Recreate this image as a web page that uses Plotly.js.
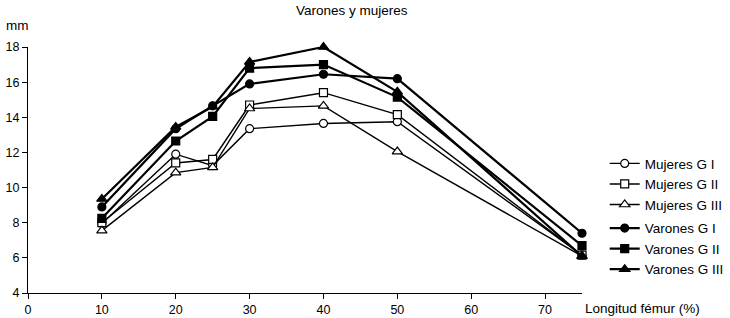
<!DOCTYPE html>
<html>
<head>
<meta charset="utf-8">
<script src="https://cdn.plot.ly/plotly-3.0.1.min.js"></script>
<style>html,body{margin:0;padding:0;background:#fff;}#chart{width:730px;height:318px;}</style>
</head>
<body>
<div id="chart"></div>
<script>
const longitud = [10, 20, 25, 30, 40, 50, 75];
const mujeresGI   = [7.95, 11.9, 11.25, 13.35, 13.65, 13.75, 6.15];
const mujeresGII  = [8.0, 11.4, 11.6, 14.7, 15.4, 14.15, 6.15];
const mujeresGIII = [7.55, 10.85, 11.15, 14.5, 14.65, 12.05, 6.1];
const varonesGI   = [8.9, 13.35, 14.65, 15.9, 16.45, 16.2, 7.4];
const varonesGII  = [8.25, 12.65, 14.05, 16.8, 17.0, 15.15, 6.7];
const varonesGIII = [9.35, 13.45, 14.6, 17.15, 18.0, 15.45, 6.1];
const seriesNames = ['Mujeres G I', 'Mujeres G II', 'Mujeres G III', 'Varones G I', 'Varones G II', 'Varones G III'];
const xTicks = [0, 10, 20, 30, 40, 50, 60, 70];
const yTicks = [4, 6, 8, 10, 12, 14, 16, 18];

const FONT = 'Liberation Sans, Arial, Helvetica, sans-serif';
const seriesData = [mujeresGI, mujeresGII, mujeresGIII, varonesGI, varonesGII, varonesGIII];
const symbols = ['circle', 'square', 'triangle-up', 'circle', 'square', 'triangle-up'];

const traces = seriesData.map((ys, i) => {
  const filled = i >= 3;
  return {
    type: 'scatter',
    mode: 'lines+markers',
    x: longitud,
    y: ys,
    name: seriesNames[i],
    legendgroup: filled ? 'v' : 'm',
    line: {color: '#000', width: filled ? 2.2 : 1.4},
    marker: {
      symbol: symbols[i],
      size: symbols[i] === 'triangle-up' ? 9 : 8,
      color: filled ? '#000' : '#fff',
      line: {color: '#000', width: 1.2}
    },
    cliponaxis: false
  };
});

const layout = {
  width: 730, height: 318,
  margin: {l: 28, r: 148, t: 47, b: 25, autoexpand: false},
  paper_bgcolor: '#fff', plot_bgcolor: '#fff',
  font: {family: FONT, size: 13.5, color: '#000'},
  title: {text: 'Varones y mujeres', font: {family: FONT, size: 13.5, color: '#000'},
          xref: 'container', x: 0.482, xanchor: 'center', yref: 'container', y: 0.9686, yanchor: 'middle'},
  showlegend: true,
  legend: {x: 1.041, xanchor: 'left', y: 0.589, yanchor: 'top', traceorder: 'grouped', tracegroupgap: 3,
           font: {family: FONT, size: 13.5, color: '#000'}, bgcolor: 'rgba(0,0,0,0)'},
  xaxis: {range: [0, 75], tickvals: xTicks, ticktext: xTicks.map(String), showgrid: false, zeroline: false,
          showline: true, linecolor: '#000', linewidth: 1, ticks: 'outside', ticklen: 5, tickcolor: '#000',
          tickfont: {family: FONT, size: 12.5, color: '#000'}, fixedrange: true},
  yaxis: {range: [4, 18], tickvals: yTicks, ticktext: yTicks.map(String), showgrid: false, zeroline: false,
          showline: true, linecolor: '#000', linewidth: 1, ticks: 'outside', ticklen: 5, tickcolor: '#000',
          tickfont: {family: FONT, size: 12.5, color: '#000'}, fixedrange: true},
  annotations: [
    {text: 'mm', xref: 'paper', yref: 'paper', x: -0.0433, y: 1.089, xanchor: 'left', yanchor: 'middle',
     showarrow: false, font: {family: FONT, size: 13.5, color: '#000'}},
    {text: 'Longitud fémur (%)', xref: 'paper', yref: 'paper', x: 1.0018, y: -0.061, xanchor: 'left', yanchor: 'middle',
     showarrow: false, font: {family: FONT, size: 13.5, color: '#000'}}
  ]
};

Plotly.newPlot('chart', traces, layout, {displayModeBar: false, staticPlot: true});
</script>
</body>
</html>
